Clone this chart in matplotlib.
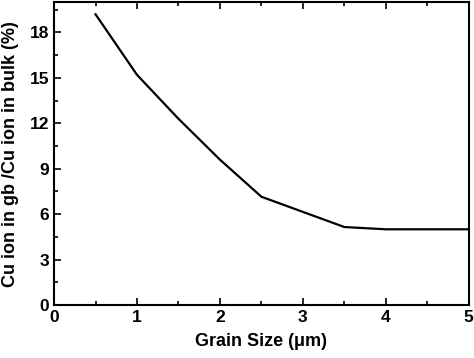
import matplotlib
matplotlib.use("Agg")
import matplotlib.pyplot as plt
from matplotlib.ticker import MultipleLocator

grain_size = [0.5, 1.0, 1.5, 2.0, 2.5, 3.0, 3.5, 4.0, 4.5, 5.0]
ratio = [19.2, 15.2, 12.3, 9.6, 7.15, 6.15, 5.15, 5.0, 5.0, 5.0]
xticks = [0, 1, 2, 3, 4, 5]
yticks = [0, 3, 6, 9, 12, 15, 18]

plt.rcParams['font.family'] = ['Liberation Sans', 'DejaVu Sans']
plt.rcParams['font.weight'] = 'bold'

fig = plt.figure(figsize=(4.74, 3.58), dpi=100)
ax = fig.add_axes([0.114, 0.148, 0.875, 0.846])
ax.plot(grain_size, ratio, color='black', lw=1.6)
ax.set_xlim(0, 5)
ax.set_ylim(0, 20)
ax.set_xticks(xticks)
ax.set_yticks(yticks)
ax.xaxis.set_minor_locator(MultipleLocator(0.5))
ax.yaxis.set_minor_locator(MultipleLocator(1.5))
ax.tick_params(which='both', direction='in', top=True, right=False, width=1.2, labelsize=12.5)
ax.tick_params(which='major', length=5)
ax.tick_params(which='minor', length=3)
for s in ax.spines.values():
    s.set_linewidth(1.5)
ax.set_xlabel('Grain Size (\u03bcm)', fontsize=13, fontweight='bold', labelpad=6)
ax.set_ylabel('Cu ion in gb /Cu ion in bulk (%)', fontsize=13, fontweight='bold', labelpad=8)
fig.savefig('out.png', dpi=100)
